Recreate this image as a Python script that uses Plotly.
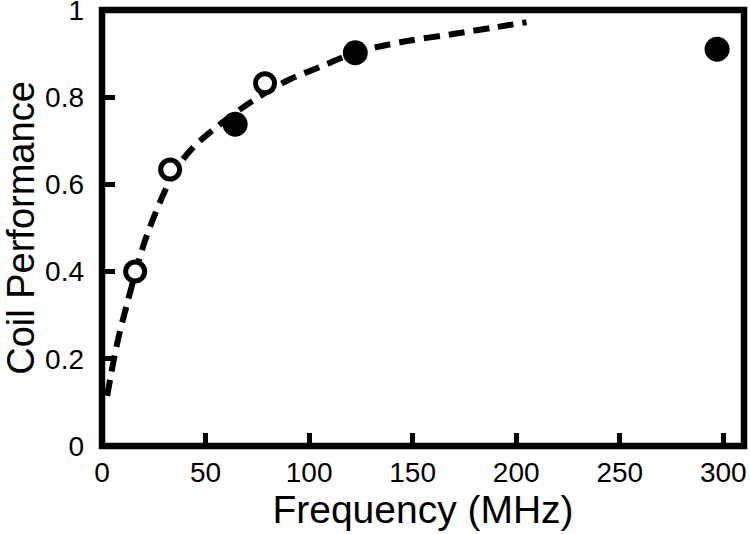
import plotly.graph_objects as go

# Data
fit_freq = [2.5, 4, 6, 8.5, 11.5, 16, 20, 24.6, 31.4, 38, 44, 53.6, 66.7, 77.8, 90.8, 105, 123, 144, 169.6, 190.8, 205]
fit_perf = [0.115, 0.155, 0.205, 0.26, 0.315, 0.395, 0.46, 0.52, 0.595, 0.65, 0.685, 0.725, 0.772, 0.807, 0.841, 0.869, 0.903, 0.926, 0.945, 0.961, 0.972]

open_freq = [16, 32.9, 78.7]
open_perf = [0.40, 0.634, 0.832]

filled_freq = [64.3, 122.3, 297]
filled_perf = [0.738, 0.902, 0.910]

x_ticks = [0, 50, 100, 150, 200, 250, 300]
y_ticks = [0, 0.2, 0.4, 0.6, 0.8, 1]
y_tick_text = ["0", "0.2", "0.4", "0.6", "0.8", "1"]

FONT = "Arial, 'Liberation Sans', sans-serif"

fig = go.Figure()
fig.add_trace(go.Scatter(
    x=fit_freq, y=fit_perf, mode="lines",
    line=dict(color="black", width=6, dash="16px,9px", shape="spline"),
    showlegend=False, hoverinfo="skip"))
fig.add_trace(go.Scatter(
    x=open_freq, y=open_perf, mode="markers",
    marker=dict(size=19, color="white", line=dict(color="black", width=5)),
    showlegend=False))
fig.add_trace(go.Scatter(
    x=filled_freq, y=filled_perf, mode="markers",
    marker=dict(size=25, color="black", line=dict(width=0)),
    showlegend=False))

fig.add_shape(type="rect", xref="paper", yref="paper", x0=0, x1=1, y0=0, y1=1,
              line=dict(color="black", width=6.5), layer="above")

fig.update_layout(
    width=750, height=534,
    margin=dict(l=102, r=6, t=10, b=88, autoexpand=False),
    paper_bgcolor="white", plot_bgcolor="white",
    font=dict(family=FONT, color="black"),
    xaxis=dict(range=[0, 310], tickvals=x_ticks, ticks="inside", ticklen=13, tickwidth=5,
               tickcolor="black", showgrid=False, zeroline=False, showline=False,
               automargin=False,
               tickfont=dict(size=28, family=FONT), ticklabelstandoff=7,
               ticklabeloverflow="allow",
               title=dict(text="Frequency (MHz)", font=dict(size=39, family=FONT), standoff=6)),
    yaxis=dict(range=[0, 1], tickvals=y_ticks, ticktext=y_tick_text, ticks="inside", ticklen=13,
               tickwidth=5, tickcolor="black", showgrid=False, zeroline=False, showline=False,
               automargin=False,
               tickfont=dict(size=28, family=FONT), ticklabelstandoff=17,
               ticklabeloverflow="allow",
               title=dict(text="Coil Performance", font=dict(size=38, family=FONT), standoff=21)),
)

# remove the browser's default 8px body margin so the figure sits at the page origin
fig.write_html("out.html", config={"displayModeBar": False},
               post_script="document.body.style.margin='0';document.body.style.overflow='hidden';")
